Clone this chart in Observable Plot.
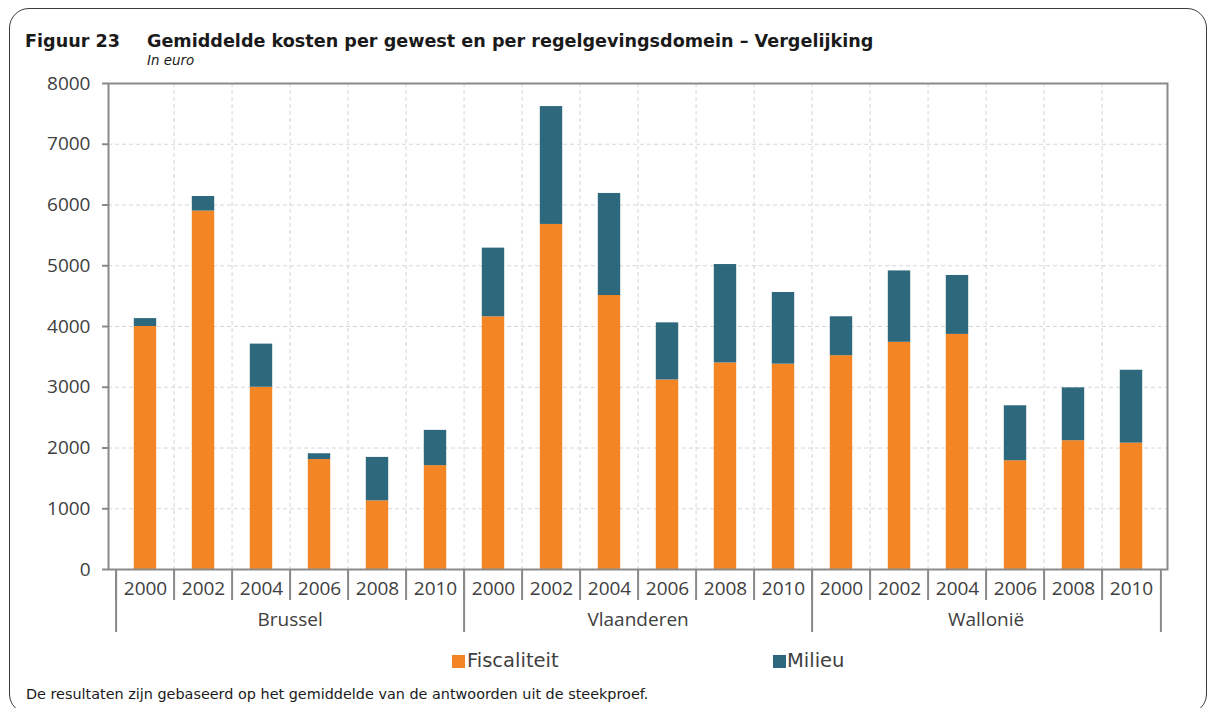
<!DOCTYPE html>
<html>
<head>
<meta charset="utf-8">
<script src="https://cdn.jsdelivr.net/npm/d3@7"></script>
<script src="https://cdn.jsdelivr.net/npm/@observablehq/plot@0.6"></script>
<style>
  html, body { margin: 0; padding: 0; background: #fff; }
  #wrap { position: relative; width: 1215px; height: 708px; overflow: hidden; }
  #border { position: absolute; left: 9px; top: 8px; width: 1198px; height: 706px; border: 1px solid #3a3a3a; border-radius: 20px; box-sizing: border-box; }
  .title { position: absolute; top: 29.5px; font-family: "DejaVu Sans"; font-weight: bold; font-size: 17.6px; color: #1a1a1a; white-space: nowrap; line-height: 22px; }
  .sub { position: absolute; left: 147px; top: 53px; font-family: "DejaVu Sans"; font-style: italic; font-size: 13.4px; color: #1a1a1a; line-height: 16px; white-space: nowrap; }
  #chart { position: absolute; left: 0; top: 70px; }
  .leg { position: absolute; top: 650px; font-family: "DejaVu Sans"; font-size: 19.5px; color: #404040; line-height: 22px; white-space: nowrap; }
  .sw { position: absolute; top: 655px; width: 13px; height: 13px; }
  .foot { position: absolute; left: 26px; top: 686px; font-family: "DejaVu Sans"; font-size: 14.4px; color: #1a1a1a; white-space: nowrap; line-height: 16px; }
</style>
</head>
<body>
<div id="wrap">
  <div id="border"></div>
  <div class="title" style="left:25px">Figuur 23</div>
  <div class="title" style="left:147px">Gemiddelde kosten per gewest en per regelgevingsdomein – Vergelijking</div>
  <div class="sub">In euro</div>
  <div id="chart"></div>
  <div class="sw" id="sw0" style="left:452px"></div>
  <div class="leg" id="lg0" style="left:467px"></div>
  <div class="sw" id="sw1" style="left:773px"></div>
  <div class="leg" id="lg1" style="left:787px"></div>
  <div class="foot">De resultaten zijn gebaseerd op het gemiddelde van de antwoorden uit de steekproef.</div>
</div>
<script>
const regions = ["Brussel", "Vlaanderen", "Wallonië"];
const years = ["2000", "2002", "2004", "2006", "2008", "2010"];
const seriesNames = ["Fiscaliteit", "Milieu"];
const seriesColors = ["#F48524", "#2D687D"];
// values per region/year, in order Brussel 2000..2010, Vlaanderen 2000..2010, Wallonië 2000..2010
const fiscaliteit = [4000, 5900, 3000, 1810, 1130, 1710,
                     4160, 5680, 4510, 3120, 3400, 3380,
                     3520, 3740, 3870, 1790, 2120, 2080];
const milieu = [130, 240, 710, 95, 715, 580,
                1130, 1940, 1680, 940, 1620, 1180,
                640, 1175, 970, 905, 870, 1200];
const yTicks = [0, 1000, 2000, 3000, 4000, 5000, 6000, 7000, 8000];

const keys = [];
regions.forEach(r => years.forEach(y => keys.push(r + " " + y)));
const rows = [];
keys.forEach((k, i) => {
  rows.push({key: k, series: seriesNames[0], value: fiscaliteit[i]});
  rows.push({key: k, series: seriesNames[1], value: milieu[i]});
});

const W = 1215, H = 575, mL = 108, mR = 48, mT = 13, mB = 76;
const bw = (W - mL - mR) / keys.length;
const gridC = "#d6d6d6", axC = "#8a8a8a";
const groupStarts = regions.map(r => r + " " + years[0]);
const groupMids = regions.map(r => r + " " + years[3]);
const lastKey = keys[keys.length - 1];

const chart = Plot.plot({
  width: W, height: H,
  marginLeft: mL, marginRight: mR, marginTop: mT, marginBottom: mB,
  style: {fontFamily: "'Open Sans'", fontSize: "19px", color: "#404040", background: "transparent", overflow: "visible"},
  x: {domain: keys, padding: 0, axis: null},
  y: {domain: [0, 8000], axis: null},
  color: {domain: seriesNames, range: seriesColors},
  marks: [
    Plot.gridY(yTicks.slice(1, -1), {stroke: gridC, strokeOpacity: 1, strokeDasharray: "4,3"}),
    Plot.gridX(keys.slice(1), {dx: -bw / 2, stroke: gridC, strokeOpacity: 1, strokeDasharray: "4,3"}),
    Plot.barY(rows, {x: "key", y: "value", fill: "series", insetLeft: 17.8, insetRight: 17.8}),
    Plot.frame({stroke: axC, strokeWidth: 2}),
    Plot.axisY(yTicks, {tickSize: 6, tickPadding: 12, tickFormat: d3.format("d"), stroke: axC, strokeWidth: 2, fill: "#404040", label: null}),
    Plot.axisX(keys, {tickSize: 31, dx: -bw / 2, text: null, stroke: axC, strokeWidth: 2, label: null}),
    Plot.axisX(groupStarts, {tickSize: 63, dx: -bw / 2, text: null, stroke: axC, strokeWidth: 2, label: null}),
    Plot.axisX([lastKey], {tickSize: 63, dx: bw / 2, text: null, stroke: axC, strokeWidth: 2, label: null}),
    Plot.axisX(keys, {tickSize: 0, tickPadding: 12, tickFormat: k => k.split(" ")[1], fill: "#404040", label: null}),
    Plot.axisX(groupMids, {tickSize: 0, tickPadding: 43, dx: -bw / 2, tickFormat: k => k.split(" ")[0], fill: "#404040", label: null})
  ]
});
document.getElementById("chart").appendChild(chart);

seriesNames.forEach((s, i) => {
  document.getElementById("sw" + i).style.background = seriesColors[i];
  document.getElementById("lg" + i).textContent = s;
});
</script>
</body>
</html>
